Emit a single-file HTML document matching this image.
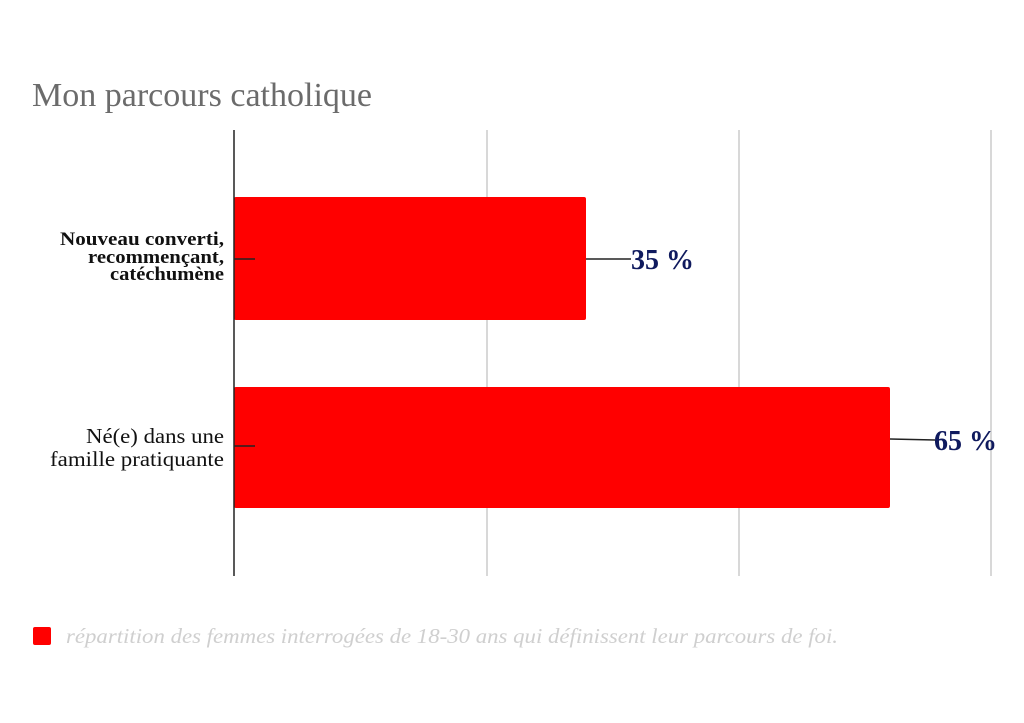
<!DOCTYPE html>
<html><head><meta charset="utf-8"><style>
html,body{margin:0;padding:0;background:#fff;}
svg{display:block;}
</style></head><body>
<svg width="1024" height="723" xmlns="http://www.w3.org/2000/svg">
<rect width="1024" height="723" fill="#fff"/>
<text x="32" y="106" font-family="Liberation Serif, serif" font-size="34" fill="#6b6b6b" textLength="340" lengthAdjust="spacingAndGlyphs">Mon parcours catholique</text>
<line x1="487" y1="130" x2="487" y2="576" stroke="#cccccc" stroke-width="1.5"/>
<line x1="739" y1="130" x2="739" y2="576" stroke="#cccccc" stroke-width="1.5"/>
<line x1="991" y1="130" x2="991" y2="576" stroke="#cccccc" stroke-width="1.5"/>
<rect x="234" y="197" width="352" height="123" rx="2" fill="#ff0000"/>
<rect x="234" y="387" width="656" height="121" rx="2" fill="#ff0000"/>
<line x1="234" y1="130" x2="234" y2="576" stroke="#222" stroke-width="1.5"/>
<line x1="234" y1="259" x2="255" y2="259" stroke="#222" stroke-width="1.5"/>
<line x1="234" y1="446" x2="255" y2="446" stroke="#222" stroke-width="1.5"/>
<g font-family="Liberation Serif, serif" font-size="21" fill="#111" text-anchor="end">
<text x="224" y="245" font-weight="bold" font-size="19" textLength="164" lengthAdjust="spacingAndGlyphs">Nouveau converti,</text>
<text x="224" y="263" font-weight="bold" font-size="19" textLength="136" lengthAdjust="spacingAndGlyphs">recommençant,</text>
<text x="224" y="280" font-weight="bold" font-size="19" textLength="114" lengthAdjust="spacingAndGlyphs">catéchumène</text>
<text x="224" y="443" textLength="138" lengthAdjust="spacingAndGlyphs">Né(e) dans une</text>
<text x="224" y="466" textLength="174" lengthAdjust="spacingAndGlyphs">famille pratiquante</text>
</g>
<line x1="586" y1="259" x2="631" y2="259" stroke="#222" stroke-width="1.5"/>
<line x1="890" y1="439" x2="935" y2="440" stroke="#222" stroke-width="1.5"/>
<g font-family="Liberation Serif, serif" font-size="28" font-weight="bold" fill="#0f1a5e">
<text x="631" y="269" textLength="63" lengthAdjust="spacingAndGlyphs">35 %</text>
<text x="934" y="450" textLength="63" lengthAdjust="spacingAndGlyphs">65 %</text>
</g>
<rect x="33" y="627" width="18" height="18" rx="2" fill="#ff0000"/>
<text x="66" y="643" font-family="Liberation Serif, serif" font-style="italic" font-size="21" fill="#cfcfcf" textLength="772" lengthAdjust="spacingAndGlyphs">répartition des femmes interrogées de 18-30 ans qui définissent leur parcours de foi.</text>
</svg>
</body></html>
